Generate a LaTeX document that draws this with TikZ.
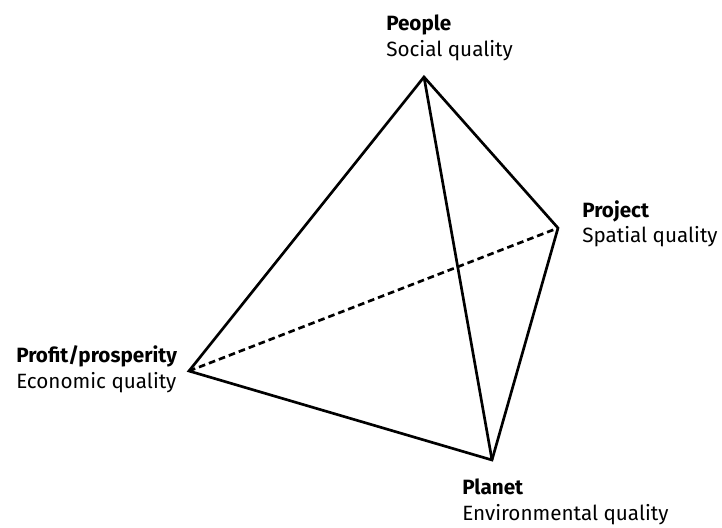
\documentclass[tikz,border=0pt]{standalone}
\usepackage{fontspec}
\setmainfont{Fira Sans}
\usepackage{tikz}
\newcommand{\pillar}[2]{\textbf{#1}\\#2}

\begin{document}
\begin{tikzpicture}[x=0.75pt, y=-0.75pt,
    edge/.style={line width=2pt, line join=miter},
    hidden/.style={edge, dash pattern=on 5pt off 3pt},
    label/.style={anchor=base west, align=left, inner sep=0pt,
        font=\fontsize{15.5}{19.5}\selectfont}]
    \useasboundingbox (0,0) rectangle (722,528);

    % corners of the tetrahedron
    \coordinate (People) at (424,77);
    \coordinate (Project) at (558,228);
    \coordinate (Profit) at (189,371);
    \coordinate (Planet) at (492,460);

    % texts, placed by the baseline of their last line
    \node[label] (PeopleText)  at (386,57)  {\pillar{People}{Social quality}};
    \node[label] (ProjectText) at (582,243) {\pillar{Project}{Spatial quality}};
    \node[label] (ProfitText)  at (16,388)  {\pillar{Profit/prosperity}{Economic quality}};
    \node[label] (PlanetText)  at (462,520) {\pillar{Planet}{Environmental quality}};

    \draw[edge] (People) -- (Profit) -- (Planet) -- (Project) -- cycle;
    \draw[edge] (People) -- (Planet);
    \draw[hidden] (Profit) -- (Project);
\end{tikzpicture}
\end{document}
